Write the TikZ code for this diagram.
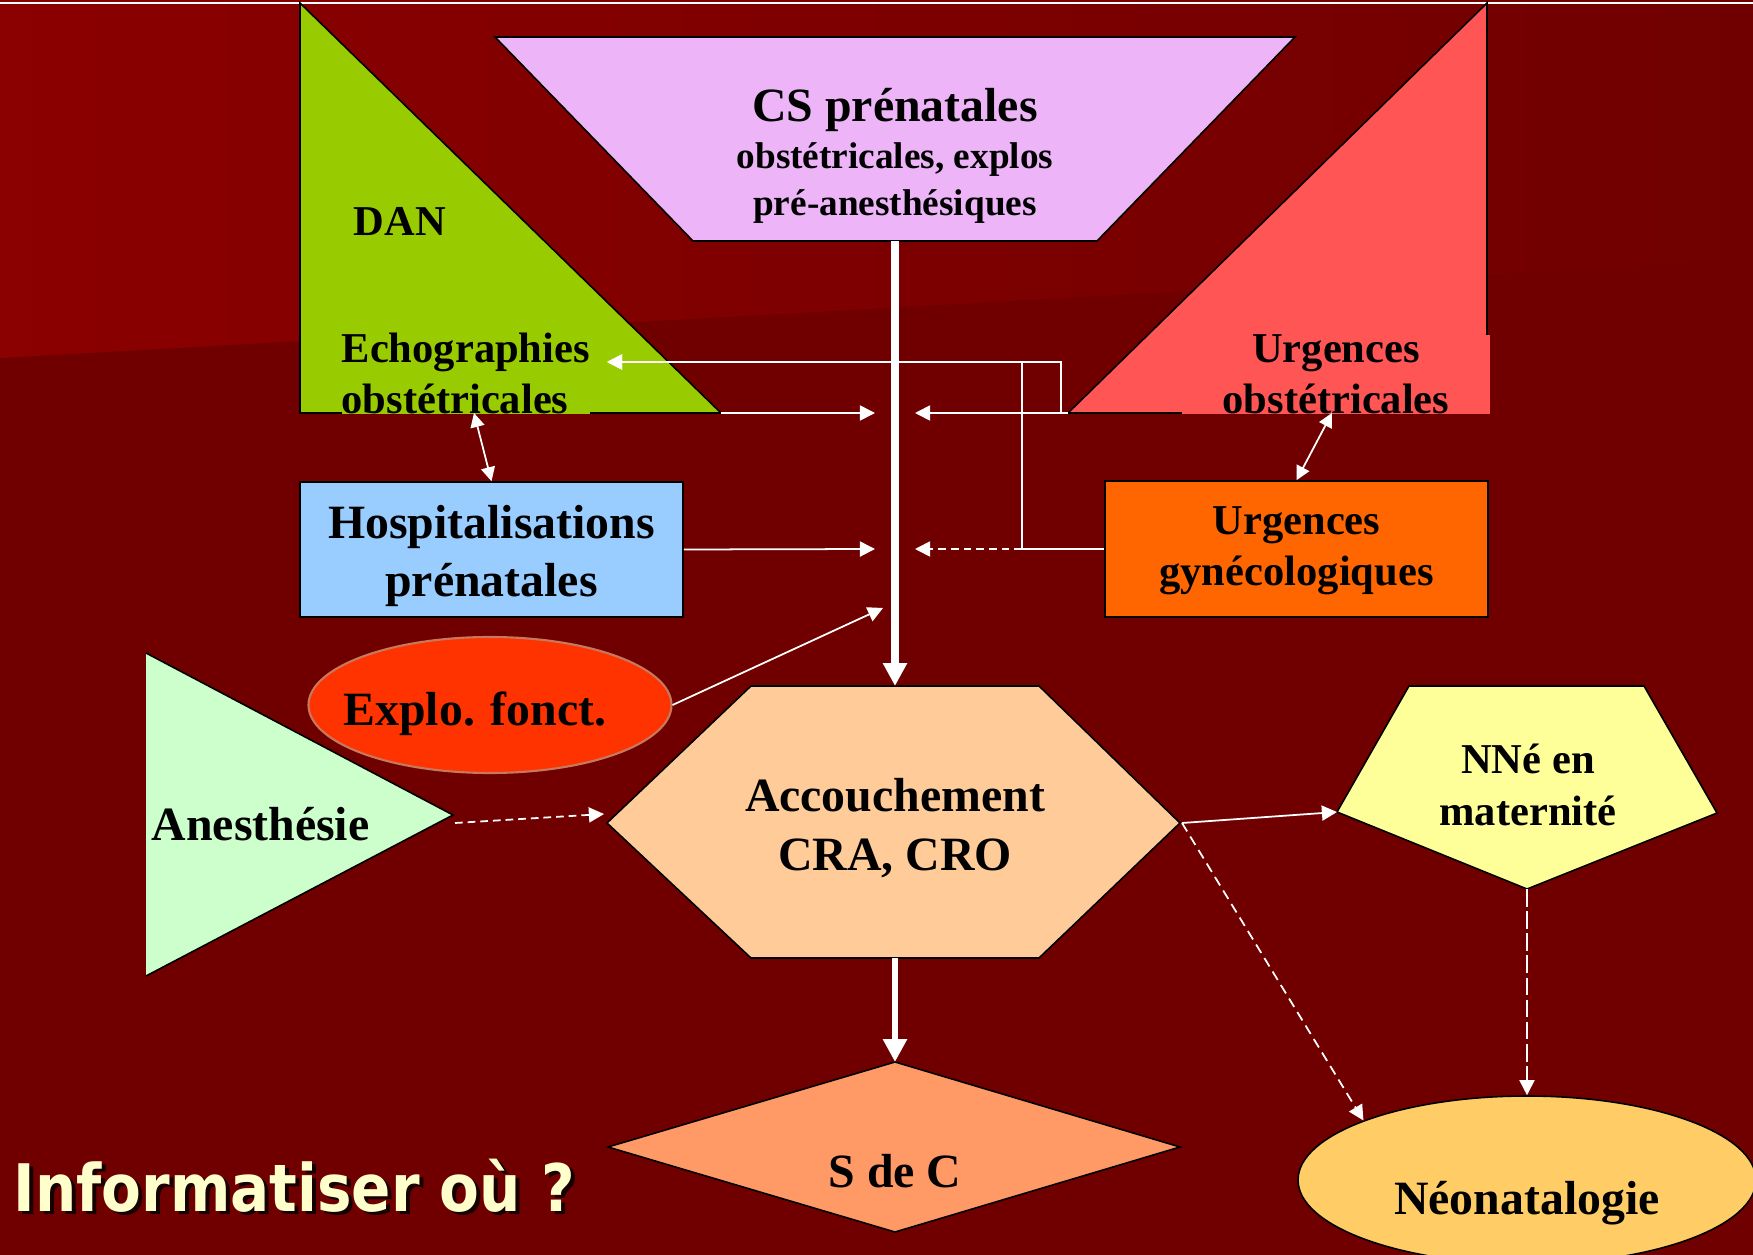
\documentclass[tikz,border=0pt]{standalone}
\usepackage{fontspec}
\setmainfont{Liberation Serif}
\newfontfamily\askfont{DejaVu Sans}
\usetikzlibrary{arrows.meta,positioning,shapes.geometric}
\definecolor{BgDark}{HTML}{700000}
\definecolor{BgLight}{HTML}{8B0000}
\definecolor{Lilac}{HTML}{EDB4F8}
\definecolor{Lime}{HTML}{99CC00}
\definecolor{Salmon}{HTML}{FF5555}
\definecolor{Sky}{HTML}{99CCFF}
\definecolor{Pumpkin}{HTML}{FF6600}
\definecolor{Blaze}{HTML}{FF3300}
\definecolor{Rim}{HTML}{C8785F}
\definecolor{Mint}{HTML}{CCFFCC}
\definecolor{Peach}{HTML}{FFCC99}
\definecolor{Apricot}{HTML}{FF9966}
\definecolor{Butter}{HTML}{FFFF99}
\definecolor{Honey}{HTML}{FFCC66}
\definecolor{Cream}{HTML}{FFFFCC}
\tikzset{
  zone/.style={draw=black, line width=0.45pt},
  txt/.style={font=\bfseries\fontsize{12.1}{14.6}\selectfont, align=center, inner sep=0pt},
  bigtxt/.style={font=\bfseries\fontsize{13.6}{16.6}\selectfont, align=center, inner sep=0pt},
  flow/.style={-{Triangle[length=4.3pt,width=4.3pt]}, draw=white, line width=0.5pt},
  mainflow/.style={-{Triangle[length=6.5pt,width=6.5pt]}, draw=white, line width=2.2pt},
  twoway/.style={{Triangle[length=4pt,width=4pt]}-{Triangle[length=4pt,width=4pt]}, draw=white, line width=0.5pt},
  dashflow/.style={flow, dash pattern=on 2.2pt off 1.4pt}
}
\begin{document}
\begin{tikzpicture}[x=0.1mm,y=-0.1mm]
\useasboundingbox (0,0) rectangle (1753,1255);
% background
\fill[BgDark] (0,0) rectangle (1753,1255);
\shade[left color=BgLight,right color=BgDark] (0,0) -- (1753,0) -- (1753,259) -- (0,358) -- cycle;
\draw[white,line width=0.6pt] (0,3) -- (1753,3);

% shapes
\filldraw[zone,fill=Lilac] (495,37) -- (1295,37) -- (1097,241) -- (693,241) -- cycle;
\coordinate (cs-s) at (895,241);
\filldraw[zone,fill=Lime] (300,3) -- (721,413) coordinate (dan) -- (300,413) -- cycle;
\filldraw[zone,fill=Salmon] (1487,3) -- (1487,413) -- (1068,413) coordinate (urgobs) -- cycle;
\fill[Mint] (146,653) -- (453,815) -- (146,976) -- cycle;
\draw[zone] (146,653) -- (453,815) -- (146,976);
\filldraw[zone,fill=Peach] (607,823) -- (751,686) -- (1039,686) -- (1180,823)
  -- (1039,958) -- (751,958) -- cycle;
\filldraw[zone,fill=Apricot] (895,1062) coordinate (sdc-n) -- (1180,1147) -- (895,1232)
  -- (608,1147) -- cycle;
\filldraw[zone,fill=Butter] (1409,686) -- (1644,686) -- (1717,813) -- (1527,889) coordinate (nne-s)
  -- (1337,812) coordinate (nne-w) -- cycle;
\coordinate (acc-n) at (895,686);
\coordinate (acc-s) at (895,958);
\coordinate (acc-e) at (1182,823);

\node[ellipse,draw=Rim,line width=0.6pt,fill=Blaze,minimum width=36.3mm,minimum height=13.6mm,
  inner sep=0pt] (explo) at (490,705) {};
\node[ellipse,zone,fill=Honey,minimum width=45.8mm,minimum height=16.8mm,inner sep=0pt] (neo) at (1527,1180) {};
\node[zone,fill=Sky,minimum width=38.3mm,minimum height=13.5mm] (hosp) at (491.5,549.5) {};
\node[zone,fill=Pumpkin,minimum width=38.3mm,minimum height=13.6mm] (urggyn) at (1296.5,549) {};

% labels
\node[inner sep=0pt,align=center,font=\bfseries\fontsize{10.6}{13.4}\selectfont] (cs) at (895,156)
  {{\fontsize{13.6}{16}\selectfont CS prénatales}\\obstétricales, explos\\pré-anesthésiques};
\node[txt,anchor=west] (dan-lbl) at (353,222) {DAN};
\node[txt,fill=Lime,align=left,anchor=south west] (echo) at (341,415) {Echographies\\obstétricales};
\node[txt,fill=Salmon,anchor=south,minimum width=30.8mm] (obs) at (1336,415) {Urgences\\obstétricales};
\node[bigtxt] (hosp-lbl) at (491.5,556) {Hospitalisations\\prénatales};
\node[txt] (gyn-lbl) at (1296.5,550.5) {Urgences\\gynécologiques};
\node[bigtxt] (explo-lbl) at (475,714) {Explo. fonct.};
\node[bigtxt,anchor=west] (anes) at (151,824) {Anesthésie};
\node[bigtxt] (acc) at (895,828) {Accouchement\\CRA, CRO};
\node[txt] (nne) at (1528,785) {NNé en\\maternité};
\node[bigtxt] (sdc) at (895,1171) {S de C};
\node[bigtxt] (neo-lbl) at (1527,1203) {Néonatalogie};
\node[anchor=base west,inner sep=0pt,text=black!80!BgDark,font=\askfont\bfseries\fontsize{16.5}{20}\selectfont]
  (ask-shadow) at (17,1214) {\scalebox{1}[1.13]{Informatiser où ?}};
\node[anchor=base west,inner sep=0pt,text=Cream,font=\askfont\bfseries\fontsize{16.5}{20}\selectfont]
  (ask) at (13,1211) {\scalebox{1}[1.13]{Informatiser où ?}};

% connectors
\coordinate (dan-in) at (875,413);
\coordinate (obs-in) at (915,413);
\coordinate (hosp-in) at (875,549);
\coordinate (gyn-in) at (915,549);
\coordinate (explo-in) at (883,608);
\coordinate (echo-in) at (607,362);
\coordinate (obs-up) at (1061,413);
\coordinate (gyn-fork) at (1022,549);
\coordinate (echo-foot) at (474,413);
\coordinate (obs-foot) at (1332,413);
\coordinate (anes-out) at (455,823);
\coordinate (acc-in) at (604,814);
\draw[flow] (dan) -- (dan-in);
\draw[flow] (urgobs) -- (obs-in);
\draw[flow] (obs-up) |- (echo-in);
\draw[flow] (urggyn.west) -- (gyn-fork) |- (echo-in);
\draw[dashflow] (gyn-fork) -- (gyn-in);
\draw[flow] (hosp.east) -- (hosp-in);
\draw[twoway] (echo-foot) -- (hosp.north);
\draw[twoway] (obs-foot) -- (urggyn.north);
\draw[flow] (explo.east) -- (explo-in);
\draw[dashflow] (anes-out) -- (acc-in);
\draw[mainflow] (cs-s) -- (acc-n);
\draw[mainflow,line width=1.7pt] (acc-s) -- (sdc-n);
\draw[flow] (acc-e) -- (nne-w);
\draw[flow,dash pattern=on 2.8pt off 1.7pt] (acc-e) -- (neo.160);
\draw[flow,dash pattern=on 5pt off 1.3pt] (nne-s) -- (neo.north);
\end{tikzpicture}
\end{document}
